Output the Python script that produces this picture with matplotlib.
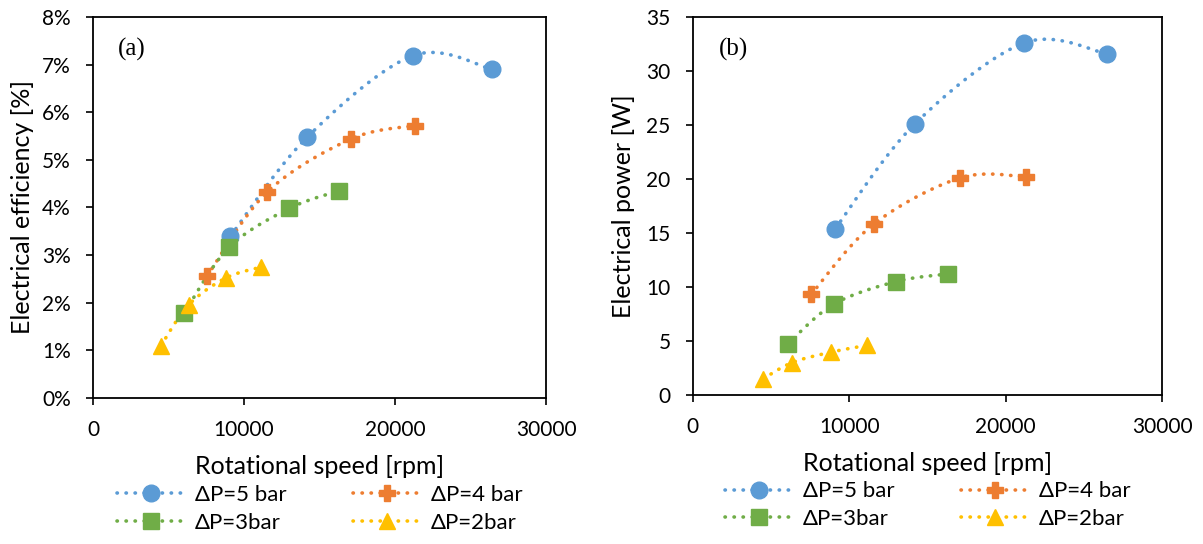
import numpy as np
import matplotlib.pyplot as plt

# rotational speed [rpm] per pressure drop
rpm_5 = [9100, 14200, 21200, 26450]
rpm_4 = [7550, 11550, 17100, 21300]
rpm_3 = [6050, 9000, 13000, 16300]
rpm_2 = [4500, 6350, 8800, 11150]

# electrical efficiency [%]
eff_5 = [3.40, 5.48, 7.19, 6.90]
eff_4 = [2.56, 4.33, 5.44, 5.72]
eff_3 = [1.79, 3.16, 3.98, 4.35]
eff_2 = [1.10, 1.96, 2.52, 2.75]

# electrical power [W]
pow_5 = [15.4, 25.1, 32.6, 31.6]
pow_4 = [9.3, 15.8, 20.1, 20.2]
pow_3 = [4.7, 8.4, 10.5, 11.2]
pow_2 = [1.5, 3.0, 3.95, 4.6]

labels = ['ΔP=5 bar', 'ΔP=4 bar', 'ΔP=3bar', 'ΔP=2bar']
colors = ['#5B9BD5', '#ED7D31', '#70AD47', '#FFC000']
markers = ['o', 'P', 's', '^']
msizes = [12, 11, 11, 11]

plt.rcParams['font.family'] = ['Lato', 'DejaVu Sans']


def smooth(x, y, n=40):
    # excel-like smoothed line (catmull-rom bezier)
    x = np.asarray(x, float)
    y = np.asarray(y, float)
    px = np.concatenate([[x[0]], x, [x[-1]]])
    py = np.concatenate([[y[0]], y, [y[-1]]])
    xs, ys = [], []
    t = np.linspace(0, 1, n)
    for i in range(1, len(px) - 2):
        p0, p1, p2, p3 = [np.array([px[j], py[j]]) for j in (i - 1, i, i + 1, i + 2)]
        c1 = p1 + (p2 - p0) / 6
        c2 = p2 - (p3 - p1) / 6
        b = (np.outer((1 - t) ** 3, p1) + np.outer(3 * (1 - t) ** 2 * t, c1)
             + np.outer(3 * (1 - t) * t ** 2, c2) + np.outer(t ** 3, p2))
        xs.append(b[:, 0])
        ys.append(b[:, 1])
    return np.concatenate(xs), np.concatenate(ys)


def draw(ax, xs, ys):
    handles = []
    for x, y, c, m, ms, lab in zip(xs, ys, colors, markers, msizes, labels):
        sx, sy = smooth(x, y)
        ax.plot(sx, sy, color=c, lw=2.6, linestyle=(0, (0.1, 2.4)),
                dash_capstyle='round', zorder=2)
        ax.plot(x, y, linestyle='none', marker=m, ms=ms, color=c, zorder=3)
        h, = ax.plot([], [], color=c, lw=2.6, linestyle=(0, (0.1, 2.4)),
                     dash_capstyle='round', marker=m, ms=ms, label=lab)
        handles.append(h)
    ax.set_xlim(0, 30000)
    ax.set_xticks([0, 10000, 20000, 30000])
    ax.tick_params(labelsize=15, direction='out', length=5, width=1.2, pad=11)
    for s in ax.spines.values():
        s.set_linewidth(1.3)
    ax.set_xlabel('Rotational speed [rpm]', fontsize=18, labelpad=11)
    # row-wise order like the original: 5, 4 / 3, 2
    order = [0, 2, 1, 3]
    ax.legend(handles=[handles[i] for i in order], ncol=2, loc='upper center',
              bbox_to_anchor=(0.5, -0.205), frameon=False, fontsize=16,
              handlelength=3.1, columnspacing=3.0, labelspacing=0.35,
              handletextpad=0.4, borderaxespad=0)
    return handles


fig = plt.figure(figsize=(12.03, 5.44), dpi=100)
ax1 = fig.add_axes([0.0773, 0.2684, 0.3766, 0.7004])
ax2 = fig.add_axes([0.576, 0.274, 0.390, 0.6950])

draw(ax1, [rpm_5, rpm_4, rpm_3, rpm_2], [eff_5, eff_4, eff_3, eff_2])
ax1.set_ylim(0, 8)
ax1.set_yticks(range(0, 9))
ax1.set_yticklabels(['%d%%' % v for v in range(0, 9)])
ax1.set_ylabel('Electrical efficiency [%]', fontsize=18, labelpad=6)
ax1.text(0.055, 0.915, '(a)', transform=ax1.transAxes, fontsize=18,
         family='Liberation Serif', va='center')

draw(ax2, [rpm_5, rpm_4, rpm_3, rpm_2], [pow_5, pow_4, pow_3, pow_2])
ax2.set_ylim(0, 35)
ax2.set_yticks(range(0, 36, 5))
ax2.set_ylabel('Electrical power [W]', fontsize=18, labelpad=8)
ax2.text(0.055, 0.915, '(b)', transform=ax2.transAxes, fontsize=18,
         family='Liberation Serif', va='center')

fig.savefig('out.png', dpi=100)
